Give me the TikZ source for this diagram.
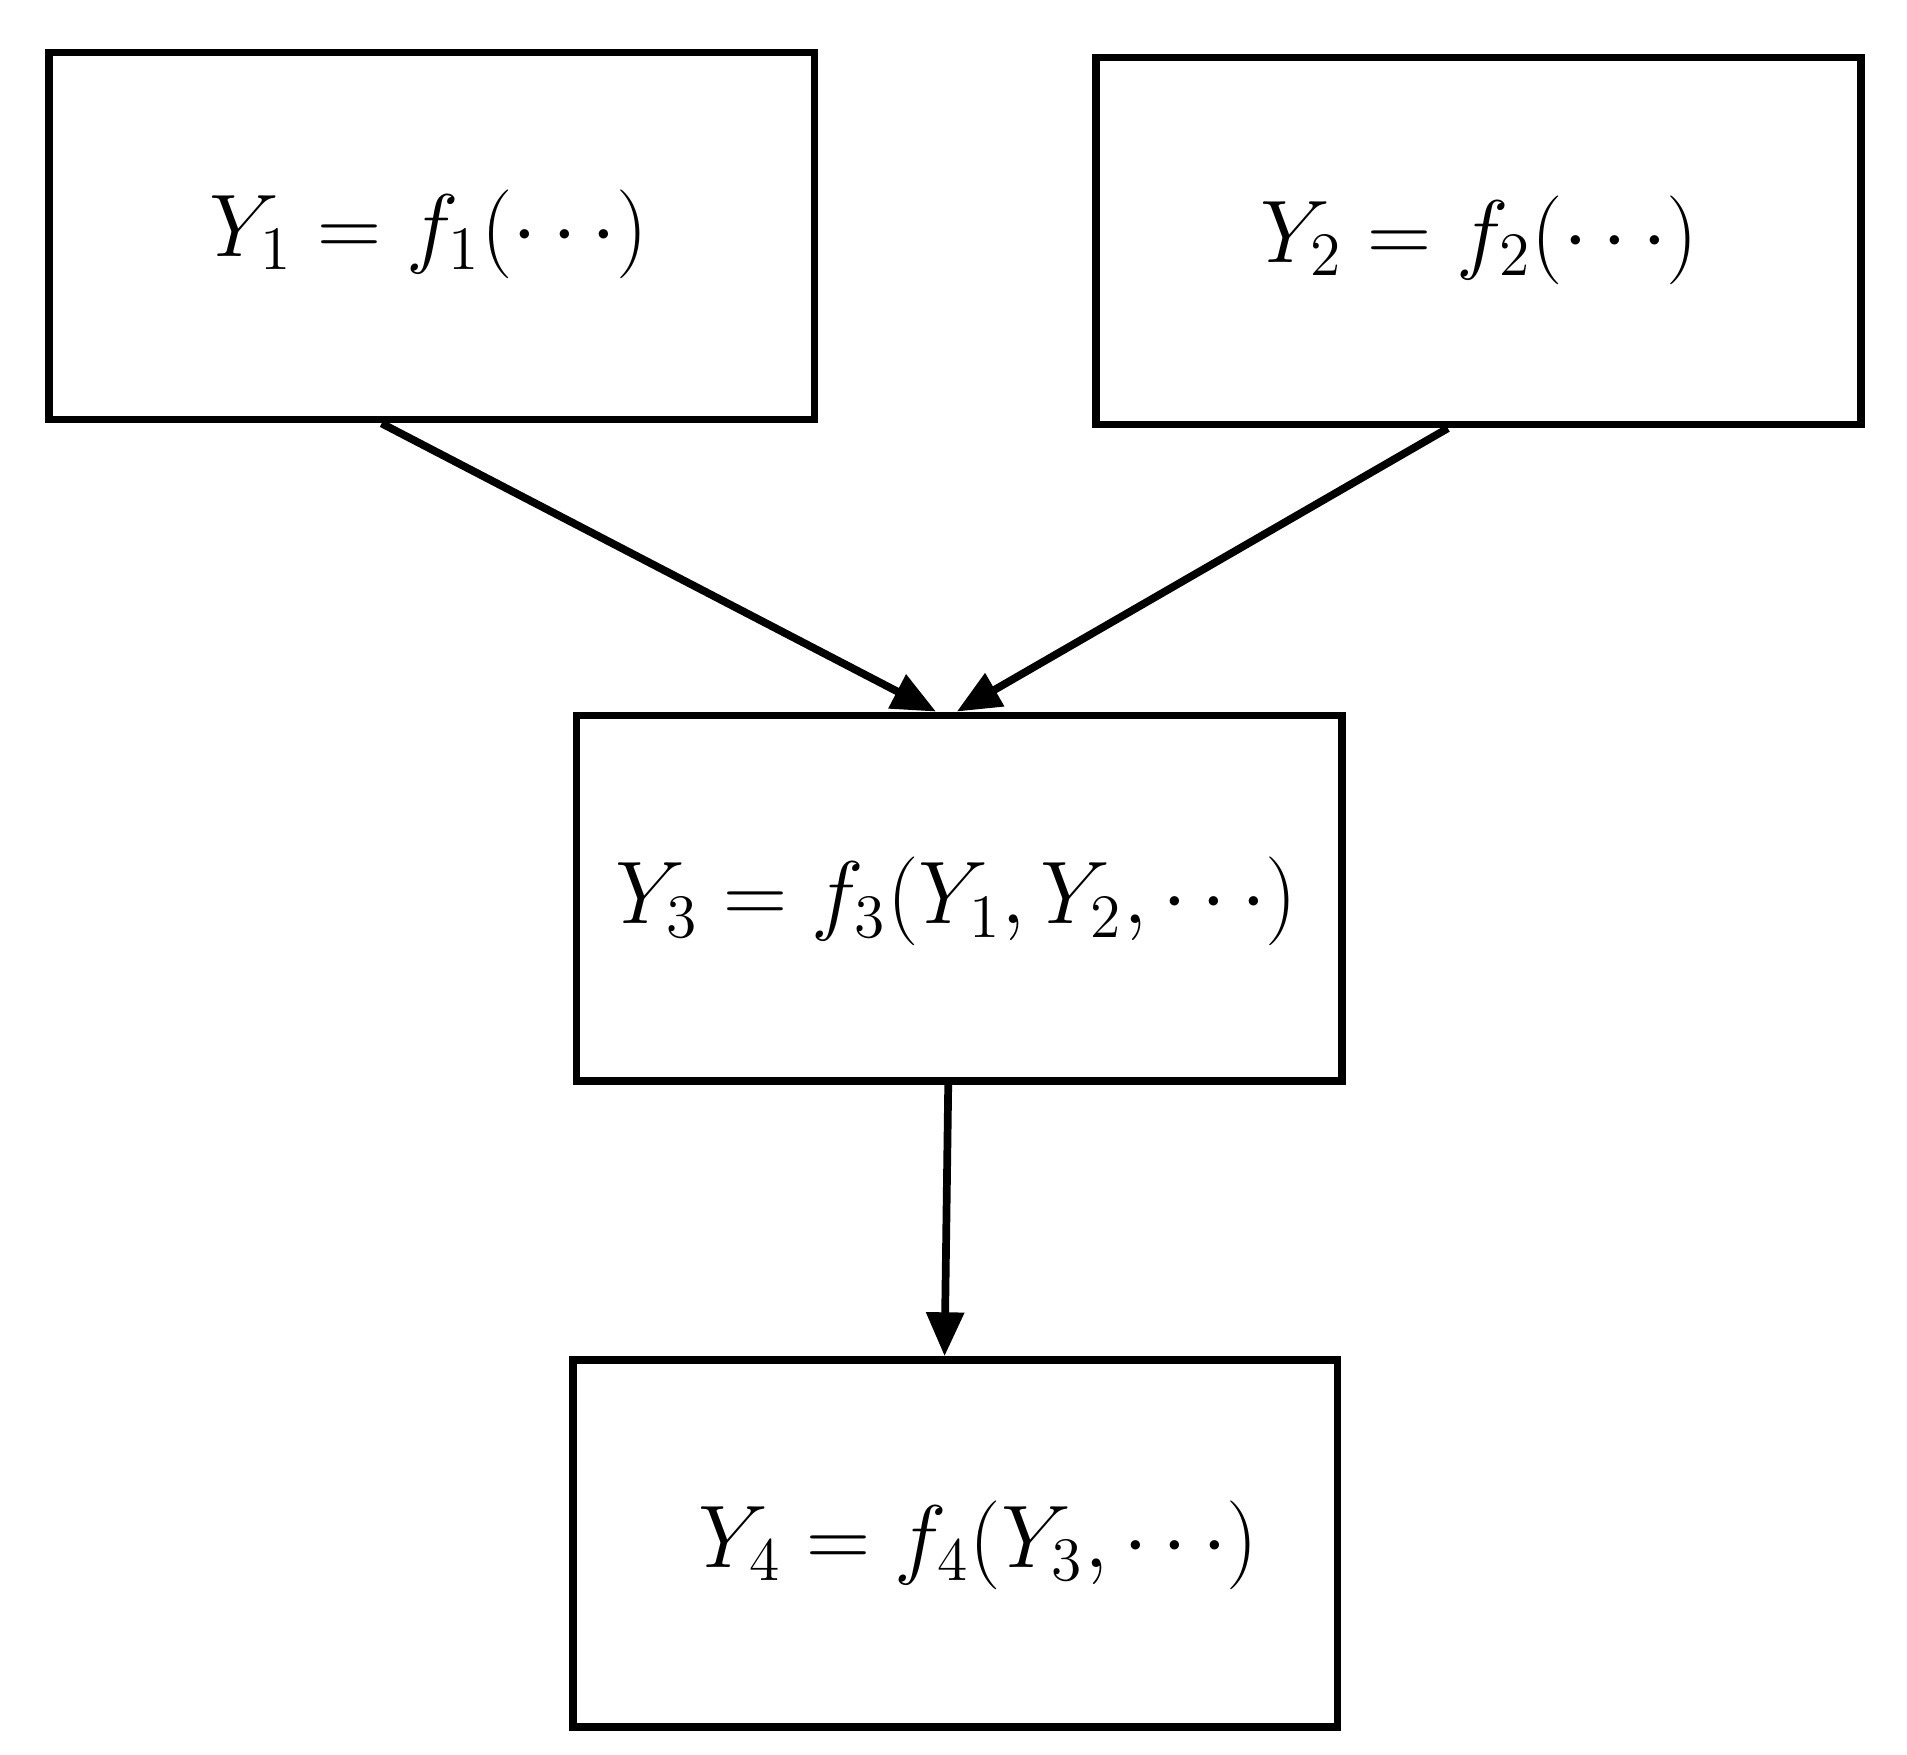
\documentclass[tikz,border=0pt]{standalone}
\usetikzlibrary{arrows.meta}
\begin{document}
\begin{tikzpicture}[x=0.01cm,y=-0.01cm,
  box/.style={draw,line width=1.8pt,anchor=north west,inner sep=0pt},
  lbl/.style={font=\fontsize{21}{25}\selectfont},
  arr/.style={line width=1.8pt,-{Triangle[length=0.36cm,width=0.3cm]}}]
\useasboundingbox (0,0) rectangle (1565,1440);
\node[box,minimum width=6.28cm,minimum height=3.01cm] (b1) at (37,40) {};
\node[box,minimum width=6.28cm,minimum height=3.01cm] (b2) at (896,44) {};
\node[box,minimum width=6.28cm,minimum height=3.0cm] (b3) at (470,584) {};
\node[box,minimum width=6.27cm,minimum height=3.01cm] (b4) at (467,1113) {};
\node[lbl] (t1) at (352,192) {$Y_1 = f_1(\cdots)$};
\node[lbl] (t2) at (1214,197) {$Y_2 = f_2(\cdots)$};
\node[lbl] (t3) at (785,740) {$Y_3 = f_3(Y_1, Y_2, \cdots)$};
\node[lbl] (t4) at (803,1268) {$Y_4 = f_4(Y_3, \cdots)$};
\draw[arr] ([xshift=2.76cm]b1.south west) -- ([xshift=2.98cm]b3.north west);
\draw[arr] ([xshift=2.92cm]b2.south west) -- ([xshift=3.15cm]b3.north west);
\draw[arr] ([xshift=3.08cm]b3.south west) -- ([xshift=3.08cm]b4.north west);
\end{tikzpicture}
\end{document}
